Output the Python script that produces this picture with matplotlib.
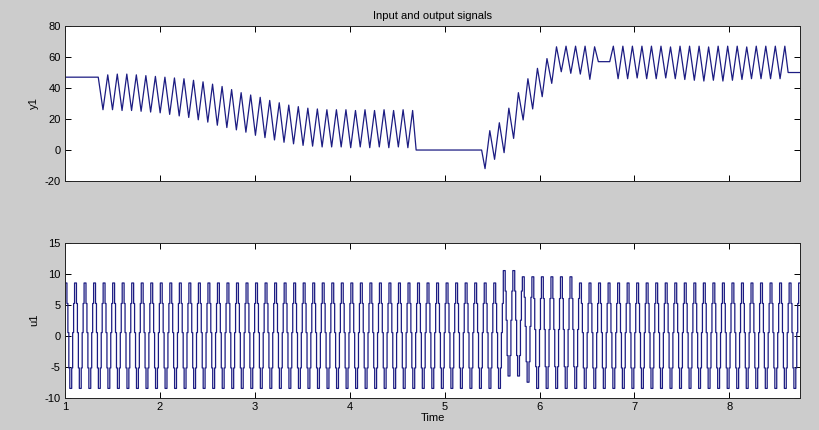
import numpy as np
import matplotlib
matplotlib.use("Agg")
import matplotlib.pyplot as plt

plt.rcParams['font.family'] = ['Liberation Sans', 'DejaVu Sans']
plt.rcParams['axes.unicode_minus'] = False
lineStyle = {'color': '#1c1c82', 'linewidth': 0.9}
labelFont = {'size': 8}

#%% DATA
# ______________________________________________
period = 0.1004          # one oscillation of both signals (s)
t_start, t_end = 1.0, 8.745

# y1: flat parts (time, value)
y1_flat_start = [(1.0, 47), (1.35, 47)]
y1_flat_mid = [(4.70, 0), (5.39, 0)]
y1_flat_hold = [(6.62, 57), (6.74, 57)]
y1_flat_end = [(8.62, 50), (8.745, 50)]

# y1 segment A: first trough at 1.40, alternating trough / peak
segA_t0 = 1.40
segA_troughs = [26, 26, 25.5, 25.5, 25, 24.5, 24, 23, 22, 21, 19.5, 18, 16, 14.5,
                13, 11.5, 9.5, 8, 6.5, 5, 4, 3, 2.5, 2, 2, 2, 1.5, 2, 1.5, 2, 1.5, 2, 1.5]
segA_peaks = [48.5, 49, 49, 48.5, 48, 47.5, 47, 46.5, 46, 45, 44, 42.5, 41, 39, 37,
              35.5, 34, 32, 30.5, 29, 28, 27, 26.5, 26, 26, 26, 25.5, 26, 25.5, 26,
              25.5, 26, 25.5]

# y1 segment B: rising part, first trough at 5.426
segB_t0 = 5.426
segB_troughs = [-12, -6, -1.7, 7.5, 19.4, 26.5, 34.4, 43, 50.5, 49.5, 49, 45.6]
segB_peaks = [12.5, 17.6, 27, 37, 46, 52.7, 59, 66.6, 67, 67, 67, 66.6]

# y1 segment C: first peak at 6.778, alternating peak / trough
segC_t0 = 6.778
segC_peaks = [67, 67, 67, 67, 67, 67, 66.5, 67, 67, 67, 66.5, 67, 67, 67, 66.5,
              67, 67, 67, 67]
segC_troughs = [46, 46, 46.5, 46, 46, 46.5, 46, 45.5, 45, 44.5, 45, 44.5, 45,
                45.5, 46, 46, 46, 46]

# u1: staircase cycle of 10 held samples, starting on the high level
u1_cycle = [8.5, 8.5, 5.2, 0.5, -5.2, -8.5, -8.5, -5.2, 0.5, 5.2]
u1_special = {
    46: [10.5, 10.5, 7.2, 2.5, -3.2, -6.5, -6.5, -3.2, 2.5, 7.2],
    47: [10.5, 10.5, 7.2, 2.5, -3.2, -6.5, -6.5, -3.2, 2.5, 7.2],
    48: [9.5, 9.5, 6.2, 1.5, -4.2, -7.5, -7.5, -4.2, 1.5, 6.2],
    49: [9.5, 9.5, 6.0, 1.0, -5.0, -8.5, -8.5, -5.0, 1.0, 6.0],
    50: [9.5, 9.5, 6.0, 1.0, -5.0, -8.5, -8.5, -5.0, 1.0, 6.0],
    51: [9.5, 9.5, 6.0, 1.0, -5.0, -8.5, -8.5, -5.0, 1.0, 6.0],
    52: [9.5, 9.5, 6.0, 1.0, -5.0, -8.5, -8.5, -5.0, 1.0, 6.0],
    53: [9.5, 9.5, 6.0, 1.0, -5.0, -8.5, -8.5, -5.0, 1.0, 6.0],
}
n_cycles = 78

y1_yticks = [-20, 0, 20, 40, 60, 80]
u1_yticks = [-10, -5, 0, 5, 10, 15]
xticks = [1, 2, 3, 4, 5, 6, 7, 8]


#%% BUILD y1
# ______________________________________________
def interleave(first, second):
    out = []
    for i in range(max(len(first), len(second))):
        if i < len(first):
            out.append(first[i])
        if i < len(second):
            out.append(second[i])
    return out

half = period / 2
segA = interleave(segA_troughs, segA_peaks)
segB = interleave(segB_troughs, segB_peaks)
segC = interleave(segC_peaks, segC_troughs)

y1_t, y1_v = [], []
for flat, seg, t0 in [(y1_flat_start, segA, segA_t0), (y1_flat_mid, segB, segB_t0),
                      (y1_flat_hold, segC, segC_t0)]:
    for tt, vv in flat:
        y1_t.append(tt)
        y1_v.append(vv)
    y1_t.extend(t0 + half * np.arange(len(seg)))
    y1_v.extend(seg)
for tt, vv in y1_flat_end:
    y1_t.append(tt)
    y1_v.append(vv)

#%% BUILD u1
# ______________________________________________
u1_v = []
for k in range(n_cycles):
    u1_v.extend(u1_special.get(k, u1_cycle))
u1_v = np.array(u1_v)
dt = period / len(u1_cycle)
u1_t = t_start + dt * np.arange(len(u1_v))
keep = u1_t <= t_end
u1_t, u1_v = u1_t[keep], u1_v[keep]

#%% PLOT
# ______________________________________________
fig = plt.figure(figsize=(8.19, 4.30), dpi=100, facecolor='#cccccc')
ax1 = fig.add_axes([0.0794, 0.579, 0.8974, 0.3605])
ax2 = fig.add_axes([0.0794, 0.0751, 0.8974, 0.3605])

ax1.plot(y1_t, y1_v, **lineStyle)
ax2.step(u1_t, u1_v, where='post', **lineStyle)

for ax in (ax1, ax2):
    ax.set_xlim(t_start, t_end)
    ax.set_xticks(xticks)
    ax.tick_params(direction='in', length=4, width=0.7, top=True, right=True,
                   labelsize=8, pad=3)
    for s in ax.spines.values():
        s.set_linewidth(0.7)
        s.set_color('#222222')

ax1.set_ylim(-20, 80)
ax1.set_yticks(y1_yticks)
ax1.set_xticklabels([])
ax1.set_ylabel("y1", **labelFont)
ax1.set_title("Input and output signals", fontsize=8, pad=5)

ax2.set_ylim(-10, 15)
ax2.set_yticks(u1_yticks)
ax2.set_ylabel("u1", **labelFont)
ax2.set_xlabel("Time", labelpad=1, **labelFont)

plt.savefig('out.png', dpi=100, facecolor=fig.get_facecolor())
